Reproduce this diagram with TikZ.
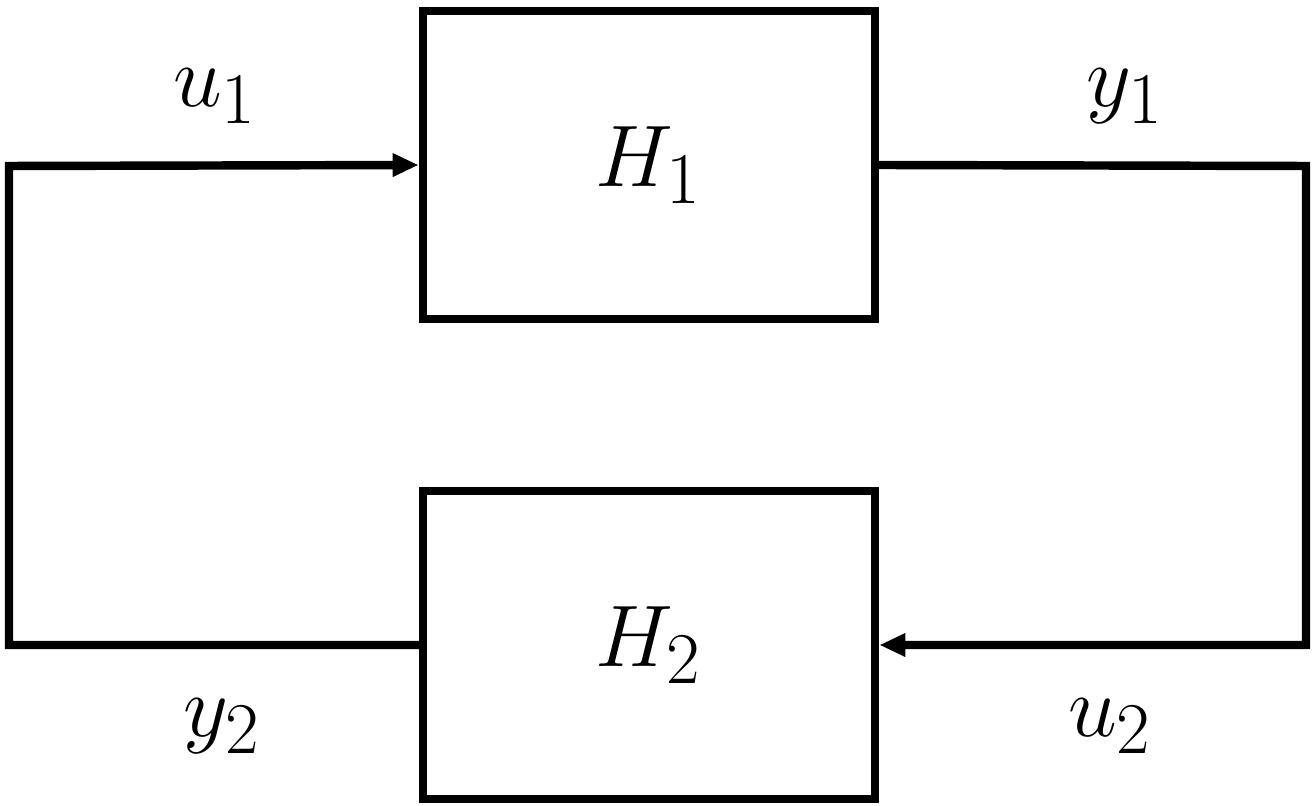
\documentclass[tikz,border=0pt]{standalone}
\usepackage{tikz}
\usetikzlibrary{arrows.meta,calc}

\begin{document}
\begin{tikzpicture}[x=0.01cm,y=0.01cm,  % 1 unit = 1 px of the sketch
  blk/.style={draw,line width=2.4pt,minimum width=4.52cm,minimum height=3.08cm,inner sep=0pt,font=\fontsize{28}{34}\selectfont},
  sig/.style={line width=2.4pt},
  lbl/.style={font=\fontsize{28}{34}\selectfont}]
  \useasboundingbox (0,0) rectangle (1315,806);
  % ---- the two blocks
  \node[blk] (h1) at (649,641) {$H_1$};
  \node[blk] (h2) at (649,161) {$H_2$};
  % ---- corners of the loop
  \coordinate (tl) at (9,640);
  \coordinate (bl) at (9,161);
  \coordinate (tr) at (1306,640);
  \coordinate (br) at (1306,161);
  % ---- feedback wiring
  \draw[sig,line cap=rect,-{Triangle[length=0.26cm,width=0.22cm]}] (h2.west) -- (bl) -- (tl) -- (h1.west);
  \draw[sig,line cap=rect,-{Triangle[length=0.26cm,width=0.22cm]}] (h1.east) -- (tr) -- (br) -- (h2.east);
  % ---- signal names
  \node[lbl] (u1) at (215,710) {$u_1$};
  \node[lbl] (y1) at (1125,710) {$y_1$};
  \node[lbl] (y2) at (222,80) {$y_2$};
  \node[lbl] (u2) at (1110,80) {$u_2$};
\end{tikzpicture}
\end{document}
